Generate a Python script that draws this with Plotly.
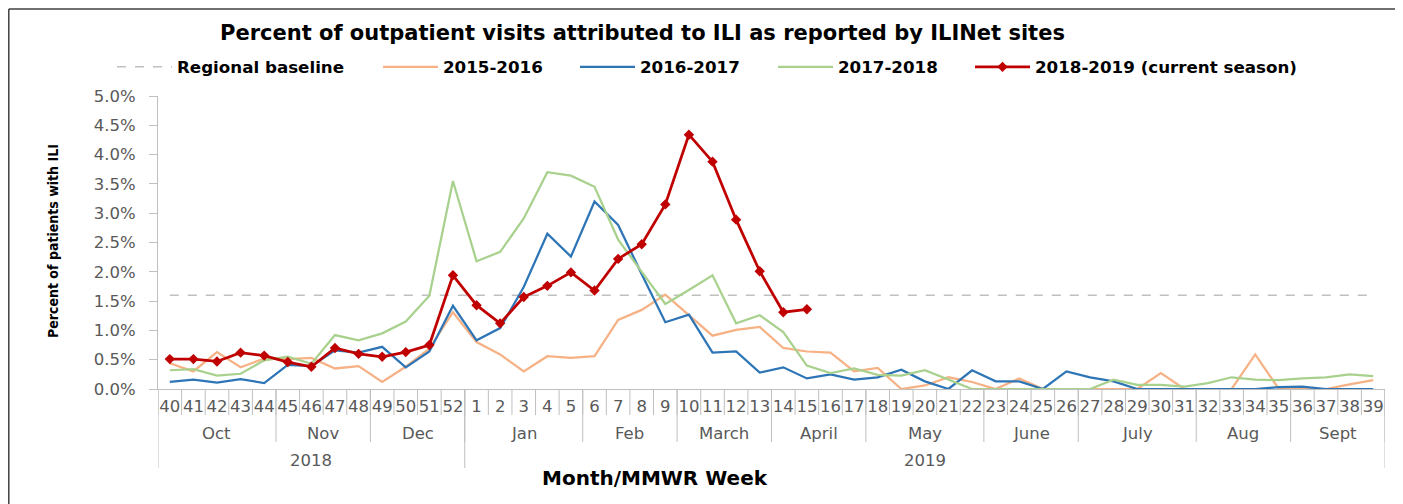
import plotly.graph_objects as go

# ---------------- data ----------------
WEEKS = ["40", "41", "42", "43", "44", "45", "46", "47", "48", "49", "50", "51", "52",
         "1", "2", "3", "4", "5", "6", "7", "8", "9", "10", "11", "12", "13", "14", "15",
         "16", "17", "18", "19", "20", "21", "22", "23", "24", "25", "26", "27", "28", "29",
         "30", "31", "32", "33", "34", "35", "36", "37", "38", "39"]

MONTHS = ["Oct", "Nov", "Dec", "Jan", "Feb", "March", "April", "May", "June", "July", "Aug", "Sept"]
WEEKS_PER_MONTH = [5, 4, 4, 5, 4, 4, 4, 5, 4, 5, 4, 4]

YEARS = ["2018", "2019"]
WEEKS_PER_YEAR = [13, 39]

BASELINE = 1.6

S_2015_2016 = [0.44, 0.30, 0.63, 0.37, 0.52, 0.51, 0.53, 0.35, 0.39, 0.12, 0.38, 0.69, 1.31,
               0.80, 0.59, 0.30, 0.56, 0.53, 0.56, 1.18, 1.35, 1.61, 1.26, 0.91, 1.01, 1.06,
               0.70, 0.64, 0.62, 0.30,
               0.36, 0.00, 0.06, 0.20, 0.12, 0.00, 0.18, 0.00, 0.00, 0.00, 0.00, 0.00,
               0.27, 0.00, 0.00, 0.00, 0.59, 0.00, 0.00, 0.00, 0.08, 0.15]

S_2016_2017 = [0.12, 0.16, 0.11, 0.17, 0.10, 0.41, 0.39, 0.66, 0.62, 0.72, 0.37, 0.64, 1.42,
               0.83, 1.04, 1.74, 2.65, 2.26, 3.20, 2.80, 1.96, 1.14, 1.27, 0.62, 0.64, 0.28,
               0.37, 0.18, 0.25, 0.16,
               0.20, 0.33, 0.13, 0.00, 0.32, 0.13, 0.13, 0.00, 0.30, 0.20, 0.13, 0.00,
               0.00, 0.00, 0.00, 0.00, 0.00, 0.03, 0.04, 0.00, 0.00, 0.00]

S_2017_2018 = [0.32, 0.34, 0.23, 0.26, 0.49, 0.55, 0.43, 0.92, 0.83, 0.95, 1.15, 1.59, 3.55,
               2.18, 2.34, 2.91, 3.70, 3.64, 3.45, 2.55, 2.00, 1.45, 1.69, 1.94, 1.12, 1.26,
               0.97, 0.40, 0.27, 0.35,
               0.24, 0.23, 0.32, 0.16, 0.00, 0.00, 0.00, 0.00, 0.00, 0.00, 0.16, 0.07,
               0.07, 0.04, 0.10, 0.20, 0.16, 0.15, 0.18, 0.20, 0.25, 0.22]

S_2018_2019 = [0.51, 0.51, 0.47, 0.62, 0.57, 0.46, 0.38, 0.70, 0.60, 0.55, 0.63, 0.75, 1.94,
               1.43, 1.12, 1.57, 1.76, 1.99, 1.68, 2.22, 2.47, 3.15, 4.34, 3.88, 2.89, 2.01,
               1.31, 1.36]

# ---------------- styling ----------------
FONT = "DejaVu Sans, Verdana, sans-serif"
FONT_COND = "DejaVu Sans Condensed, Liberation Sans Narrow, Arial Narrow, sans-serif"
TICK_COLOR = "#595959"
GRID_GREY = "#BFBFBF"

fig = go.Figure()

fig.add_trace(go.Scatter(
    x=WEEKS, y=[BASELINE] * len(WEEKS), mode="lines", name="Regional baseline",
    line=dict(color="#BFBFBF", width=1.5, dash="dash"), legend="legend"))
fig.add_trace(go.Scatter(
    x=WEEKS, y=S_2015_2016, mode="lines", name="2015-2016",
    line=dict(color="#F6B184", width=2.25), legend="legend2"))
fig.add_trace(go.Scatter(
    x=WEEKS, y=S_2016_2017, mode="lines", name="2016-2017",
    line=dict(color="#2E75B6", width=2.25), legend="legend3"))
fig.add_trace(go.Scatter(
    x=WEEKS, y=S_2017_2018, mode="lines", name="2017-2018",
    line=dict(color="#A9D18E", width=2.25), legend="legend4"))
fig.add_trace(go.Scatter(
    x=WEEKS[:len(S_2018_2019)], y=S_2018_2019, mode="lines+markers",
    name="2018-2019 (current season)",
    line=dict(color="#C00000", width=2.75),
    marker=dict(symbol="diamond", size=8, color="#C00000"), legend="legend5"))

# The page body adds an 8 px offset; the figure is sized so that the
# plot area lands on x 158..1385, y 96..389 of the window.
OFF = 8
W, H = 1403 - OFF, 504 - OFF
X0, X1, Y0, Y1 = 158, 1385, 96, 389
L, T = X0 - OFF, Y0 - OFF
PW, PH = X1 - X0, Y1 - Y0
R, B = W - L - PW, H - T - PH


def px_x(px):
    return (px - X0) / PW


def px_y(py):
    return (Y1 - py) / PH


legend_common = dict(orientation="h", yanchor="middle", xanchor="left",
                     y=px_y(67), itemwidth=55, bgcolor="rgba(0,0,0,0)",
                     font=dict(family=FONT, size=16.7, color="#000000", weight="bold"))
legend_starts = [112, 378, 575, 773, 970]
layout_legends = {}
for i, sx in enumerate(legend_starts):
    key = "legend" if i == 0 else f"legend{i + 1}"
    layout_legends[key] = dict(legend_common, x=px_x(sx))

# separators of the category table below the x axis
shapes = []
for b in range(len(WEEKS) + 1):
    shapes.append(dict(type="line", xref="x", yref="paper", x0=b - 0.5, x1=b - 0.5,
                       y0=0, y1=px_y(415), line=dict(color=GRID_GREY, width=1)))
cum = 0
month_centers = []
for n in WEEKS_PER_MONTH:
    month_centers.append(cum + (n - 1) / 2)
    cum += n
    shapes.append(dict(type="line", xref="x", yref="paper", x0=cum - 0.5, x1=cum - 0.5,
                       y0=0, y1=px_y(442), line=dict(color=GRID_GREY, width=1)))
cum = 0
year_centers = []
year_bounds = [0]
for n in WEEKS_PER_YEAR:
    year_centers.append(cum + (n - 1) / 2)
    cum += n
    year_bounds.append(cum)
for b in year_bounds:
    shapes.append(dict(type="line", xref="x", yref="paper", x0=b - 0.5, x1=b - 0.5,
                       y0=0, y1=px_y(468), line=dict(color=GRID_GREY, width=1)))
# outer frame (left, top, right edges)
FRAME = dict(color="#404040", width=1.5)
fx0, fx1, fy0, fy1 = px_x(8.8), px_x(1397.5), px_y(9), px_y(510)
shapes.append(dict(type="line", xref="paper", yref="paper", x0=fx0, x1=fx1, y0=fy0, y1=fy0, line=FRAME))
shapes.append(dict(type="line", xref="paper", yref="paper", x0=fx0, x1=fx0, y0=fy0, y1=fy1, line=FRAME))
shapes.append(dict(type="line", xref="paper", yref="paper", x0=fx1, x1=fx1, y0=fy0, y1=fy1, line=FRAME))

annotations = []
for m, c in zip(MONTHS, month_centers):
    annotations.append(dict(text=m, xref="x", yref="paper", x=c, y=px_y(433),
                            showarrow=False, xanchor="center", yanchor="middle",
                            font=dict(family=FONT, size=16.5, color=TICK_COLOR)))
for yr, c in zip(YEARS, year_centers):
    annotations.append(dict(text=yr, xref="x", yref="paper", x=c, y=px_y(460),
                            showarrow=False, xanchor="center", yanchor="middle",
                            font=dict(family=FONT, size=16.5, color=TICK_COLOR)))
annotations.append(dict(text="<b>Percent of outpatient visits attributed to ILI as reported by ILINet sites</b>",
                        xref="paper", yref="paper", x=px_x(642), y=px_y(33),
                        showarrow=False, xanchor="center", yanchor="middle",
                        font=dict(family=FONT, size=21, color="#000000")))
annotations.append(dict(text="<b>Month/MMWR Week</b>",
                        xref="paper", yref="paper", x=px_x(655), y=px_y(478),
                        showarrow=False, xanchor="center", yanchor="middle",
                        font=dict(family=FONT, size=20, color="#000000")))
annotations.append(dict(text="<b>Percent of patients with ILI</b>",
                        xref="paper", yref="paper", x=px_x(53), y=px_y(241), textangle=-90,
                        showarrow=False, xanchor="center", yanchor="middle",
                        font=dict(family=FONT_COND, size=14, color="#000000")))

fig.update_layout(
    width=W, height=H, autosize=False,
    margin=dict(l=L, r=R, t=T, b=B, pad=0),
    paper_bgcolor="white", plot_bgcolor="white",
    showlegend=True,
    shapes=shapes, annotations=annotations,
    **layout_legends,
)

fig.update_xaxes(type="category", categoryorder="array", categoryarray=WEEKS,
                 range=[-0.5, len(WEEKS) - 0.5], tickmode="array", tickvals=WEEKS, ticktext=WEEKS,
                 tickangle=0, ticks="", showgrid=False, zeroline=False,
                 showline=True, linecolor=GRID_GREY, linewidth=1, ticklabelstandoff=2,
                 tickfont=dict(family=FONT, size=16.5, color=TICK_COLOR))
fig.update_yaxes(range=[0, 5], dtick=0.5, tickformat=".1f", ticksuffix="%",
                 ticks="outside", ticklen=8, tickcolor=GRID_GREY,
                 showline=True, linecolor=GRID_GREY, linewidth=1, ticklabelstandoff=10,
                 showgrid=False, zeroline=False,
                 tickfont=dict(family=FONT, size=16.5, color=TICK_COLOR))

fig.write_html("out.html")
